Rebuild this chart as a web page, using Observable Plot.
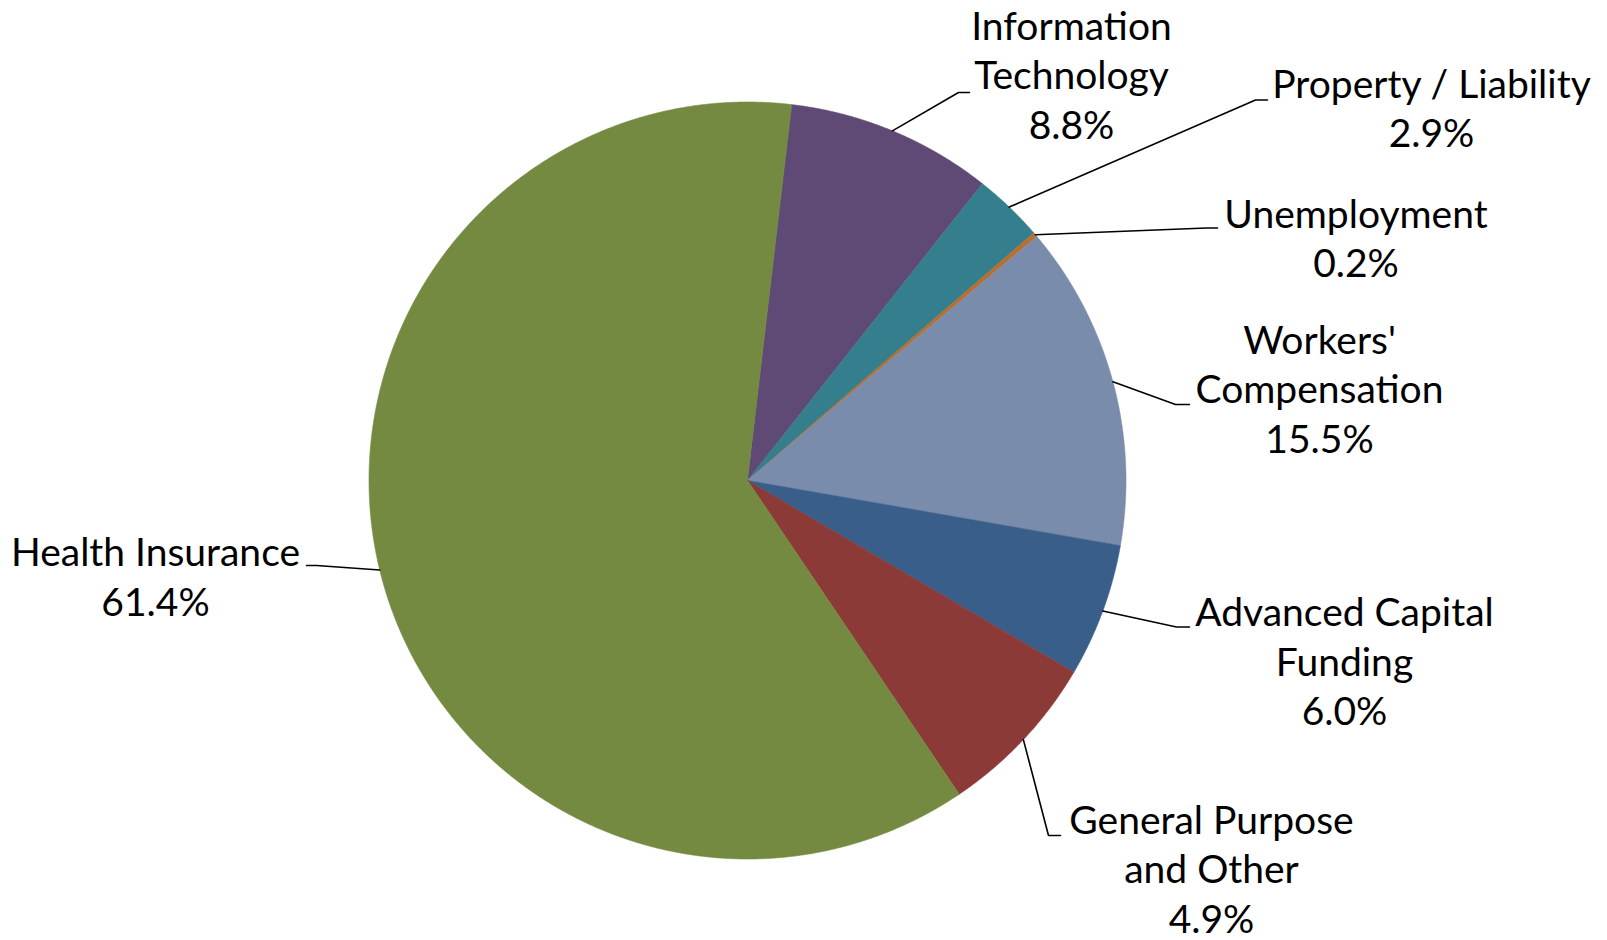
<!DOCTYPE html>
<html>
<head>
<meta charset="utf-8">
<script src="https://cdn.jsdelivr.net/npm/d3@7"></script>
<script src="https://cdn.jsdelivr.net/npm/@observablehq/plot@0.6"></script>
<style>
  html, body { margin: 0; padding: 0; background: #fff; }
  #chart svg { display: block; }
</style>
</head>
<body>
<div id="chart"></div>
<script>
// ---- Data ----
const categories = [
  "Information Technology", "Property / Liability", "Unemployment",
  "Workers' Compensation", "Advanced Capital Funding",
  "General Purpose and Other", "Health Insurance"
];
const shares = [8.8, 3.0, 0.2, 13.9, 5.7, 7.1, 61.3];
// label texts as printed on the chart
const nameLines = [
  ["Information", "Technology"], ["Property / Liability"], ["Unemployment"],
  ["Workers'", "Compensation"], ["Advanced Capital", "Funding"],
  ["General Purpose", "and Other"], ["Health Insurance"]
];
const pctLabels = ["8.8%", "2.9%", "0.2%", "15.5%", "6.0%", "4.9%", "61.4%"];
const colors = ["#5E4A75", "#357E8E", "#B96E2E", "#7A8CAB", "#3A5E8A", "#8C3A38", "#738A40"];

// ---- Layout ----
const W = 1607, H = 940;
const cx = 747, cy = 480, R = 378.5;
const startDeg = 6.67;
const fontSize = 39, lineGap = 49.5;
// label anchor: centre x, baseline of the last line
const labelPos = [[1071, 138], [1431, 146.5], [1355.5, 276.5], [1319, 452], [1344, 724.6], [1211, 932], [155, 615]];
// leader line elbow and end
const leaderElbow = [[958, 92], [1255, 99.5], [1206, 227.5], [1175, 404], [1176, 626.5], [1048, 835], [316, 565]];
const leaderEnd = [[969, 92], [1267, 99.5], [1217, 227.5], [1189, 404], [1189, 626.5], [1060, 835], [306, 565]];

// ---- Geometry from data ----
const rad = Math.PI / 180;
const arcs = d3.pie().sort(null).value(d => d)
  .startAngle(startDeg * rad).endAngle(startDeg * rad + 2 * Math.PI)(shares);

const px = a => cx + R * Math.sin(a);
const py = a => cy - R * Math.cos(a);

const slicePts = [];
arcs.forEach((a, i) => {
  const name = categories[i];
  slicePts.push({name, x: cx, y: cy});
  const n = Math.max(2, Math.ceil((a.endAngle - a.startAngle) / (0.2 * rad)));
  for (let k = 0; k <= n; k++) {
    const t = a.startAngle + (a.endAngle - a.startAngle) * k / n;
    slicePts.push({name, x: px(t), y: py(t)});
  }
});

const leaderPts = [];
arcs.forEach((a, i) => {
  const m = (a.startAngle + a.endAngle) / 2;
  leaderPts.push({i, x: px(m), y: py(m)});
  leaderPts.push({i, x: leaderElbow[i][0], y: leaderElbow[i][1]});
  leaderPts.push({i, x: leaderEnd[i][0], y: leaderEnd[i][1]});
});

const labels = categories.map((c, i) => ({
  x: labelPos[i][0], y: labelPos[i][1],
  text: [...nameLines[i], pctLabels[i]].join("\n")
}));

const chart = Plot.plot({
  width: W, height: H,
  margin: 0,
  x: {domain: [0, W], range: [0, W], axis: null},
  y: {domain: [0, H], range: [0, H], axis: null},
  color: {domain: categories, range: colors},
  style: {fontFamily: "Lato, 'Open Sans', sans-serif", background: "#fff", color: "#000"},
  marks: [
    Plot.line(slicePts, {x: "x", y: "y", z: "name", fill: "name", stroke: "name", strokeWidth: 0.6, curve: "linear-closed"}),
    Plot.line(leaderPts, {x: "x", y: "y", z: "i", stroke: "#000", strokeWidth: 1.6, curve: "linear", strokeLinejoin: "miter"}),
    Plot.text(labels, {x: "x", y: "y", text: "text", fontSize, lineHeight: lineGap / fontSize, lineAnchor: "bottom", textAnchor: "middle", fill: "#000"})
  ]
});
document.getElementById("chart").appendChild(chart);
</script>
</body>
</html>
